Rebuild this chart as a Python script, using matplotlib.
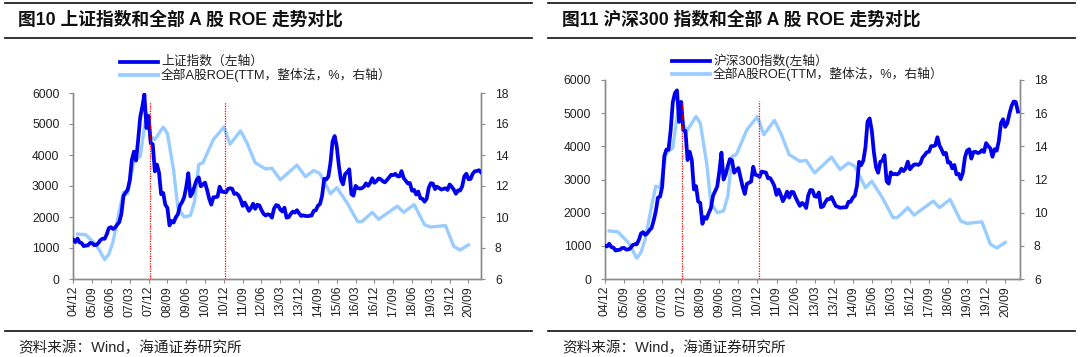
import numpy as np
import matplotlib
matplotlib.use("Agg")
import matplotlib.pyplot as plt
from matplotlib.lines import Line2D

plt.rcParams['font.family'] = ['Liberation Sans', 'Noto Sans CJK SC', 'DejaVu Sans']

# monthly closes starting 2004-12
sse_close = [1266,
             1191, 1306, 1181, 1159, 1060, 1080, 1083, 1162, 1155, 1092, 1099, 1161,
             1258, 1299, 1298, 1440, 1641, 1672, 1612, 1658, 1752, 1837, 2099, 2675,
             2786, 2881, 3183, 3841, 4109, 3820, 4471, 5218, 5552, 5954, 4871, 5261,
             4383, 4348, 3472, 3693, 3433, 2736, 2776, 2397, 2293, 1729, 1871, 1821,
             1991, 2082, 2373, 2477, 2633, 2959, 3412, 2667, 2779, 2996, 3195, 3277,
             2989, 3051, 3110, 2871, 2592, 2398, 2638, 2639, 2656, 2978, 2820, 2808,
             2791, 2905, 2928, 2911, 2743, 2762, 2701, 2568, 2359, 2468, 2333, 2199,
             2292, 2428, 2263, 2397, 2373, 2225, 2103, 2047, 2086, 2069, 1980, 2269,
             2385, 2366, 2237, 2178, 2301, 1979, 1994, 2098, 2175, 2141, 2220, 2116,
             2033, 2056, 2033, 2026, 2039, 2048, 2202, 2217, 2364, 2420, 2683, 3235,
             3210, 3310, 3748, 4442, 4612, 4277, 3664, 3206, 3053, 3383, 3446, 3539,
             2738, 2688, 3004, 2938, 2917, 2930, 2979, 3085, 3005, 3100, 3250, 3104,
             3159, 3242, 3223, 3155, 3117, 3192, 3273, 3361, 3349, 3393, 3317, 3307,
             3481, 3259, 3169, 3082, 3095, 2847, 2876, 2725, 2821, 2603, 2588, 2494,
             2585, 2941, 3091, 3078, 2899, 2979, 2933, 2886, 2905, 2929, 2872, 3050,
             2977, 2880, 2750, 2860, 2852, 2985, 3310, 3396, 3218, 3225, 3392, 3473,
             3483, 3509, 3441]

csi300_close = [1000,
                982, 1062, 963, 946, 857, 874, 880, 932, 938, 887, 892, 924,
                1022, 1046, 1048, 1179, 1373, 1413, 1330, 1381, 1473, 1535, 1766, 2042,
                2454, 2481, 2782, 3707, 3903, 3901, 4472, 5321, 5601, 5688, 4737, 5338,
                4477, 4465, 3585, 3838, 3580, 2701, 2800, 2337, 2291, 1663, 1866, 1817,
                1990, 2136, 2505, 2645, 2788, 3241, 3811, 2999, 3158, 3408, 3616, 3575,
                3204, 3281, 3346, 3067, 2781, 2563, 2868, 2903, 2936, 3385, 3142, 3128,
                3076, 3240, 3223, 3211, 3037, 3044, 2937, 2803, 2535, 2695, 2539, 2346,
                2464, 2634, 2455, 2626, 2620, 2462, 2333, 2205, 2293, 2254, 2140, 2523,
                2686, 2674, 2495, 2478, 2610, 2165, 2188, 2312, 2409, 2409, 2474, 2331,
                2203, 2178, 2146, 2158, 2158, 2165, 2328, 2327, 2450, 2509, 2808, 3533,
                3434, 3572, 3966, 4749, 4841, 4473, 3816, 3366, 3203, 3534, 3566, 3731,
                2946, 2877, 3218, 3156, 3169, 3154, 3203, 3327, 3253, 3336, 3538, 3310,
                3387, 3452, 3456, 3439, 3492, 3666, 3737, 3822, 3837, 4006, 4006, 4031,
                4275, 4023, 3899, 3756, 3802, 3510, 3517, 3335, 3438, 3154, 3173, 3011,
                3201, 3670, 3872, 3913, 3629, 3826, 3835, 3799, 3814, 3886, 3828, 4097,
                4004, 3940, 3686, 3912, 3868, 4164, 4695, 4817, 4587, 4695, 4981, 5212,
                5352, 5336, 5048]

roe_month = ['2005-02', '2005-06', '2005-11', '2006-03', '2006-05', '2006-07', '2006-10',
             '2006-12', '2007-02', '2007-05', '2007-08', '2007-11', '2008-01', '2008-03',
             '2008-07', '2008-09', '2008-12', '2009-02', '2009-05', '2009-08', '2009-10',
             '2009-12', '2010-02', '2010-07', '2010-12', '2011-03', '2011-08', '2011-11',
             '2012-03', '2012-08', '2012-11', '2013-03', '2013-11', '2014-03', '2014-07',
             '2014-10', '2015-03', '2015-06', '2015-11', '2016-04', '2016-06', '2016-11',
             '2017-02', '2017-11', '2018-02', '2018-07', '2018-12', '2019-03', '2019-10',
             '2020-02', '2020-05', '2020-09']
roe_value = [8.9, 8.85, 8.2, 7.25, 7.6, 8.4, 10.4,
             11.6, 11.5, 13.6, 13.9, 16.7, 15.2, 15.0,
             15.8, 15.4, 13.0, 10.6, 10.0, 10.1, 11.0,
             13.4, 13.5, 15.0, 15.8, 14.7, 15.56, 14.8,
             13.5, 13.1, 13.15, 12.4, 13.35, 12.6, 13.0,
             12.8, 11.5, 11.9, 10.9, 9.7, 9.7, 10.3,
             9.85, 10.7, 10.3, 10.8, 9.5, 9.35, 9.45,
             8.1, 7.87, 8.2]

tick_labels = ['04/12', '05/09', '06/06', '07/03', '07/12', '08/09', '09/06', '10/03',
               '10/12', '11/09', '12/06', '13/03', '13/12', '14/09', '15/06', '16/03',
               '16/12', '17/09', '18/06', '19/03', '19/12', '20/09']
marker_months = ['2007-12', '2010-12']


def month_pos(s):
    y, m = s.split('-')
    return (int(y) - 2004) * 12 + int(m) - 12


roe_x = [month_pos(s) for s in roe_month]
tick_x = [month_pos('20' + t.replace('/', '-')) for t in tick_labels]
marker_x = [month_pos(s) + 0.6 for s in marker_months]

W, H = 1080, 357
fig = plt.figure(figsize=(W / 100, H / 100), dpi=100)
fig.patch.set_facecolor('white')

dark = '#0000ee'
light = '#99ccff'
gray = '#8c8c8c'


def px(x, y):
    return x / W, 1 - y / H


def hline(x0, x1, y, lw=1.3):
    fig.add_artist(Line2D([x0 / W, x1 / W], [1 - y / H, 1 - y / H], color='#222222', lw=lw))


def panel(box, idx, xmax, marker_top, title, leg1, leg_x, leg_y, text_x):
    l, t, r, b = box
    ax = fig.add_axes([l / W, 1 - b / H, (r - l) / W, (b - t) / H])
    ax2 = ax.twinx()
    ax.plot(np.arange(len(idx)), idx, color=dark, lw=2.7, solid_joinstyle='round', zorder=3)
    ax2.plot(roe_x, roe_value, color=light, lw=2.4, solid_joinstyle='round', zorder=2)
    ax.set_zorder(ax2.get_zorder() + 1)
    ax.patch.set_visible(False)
    for mx in marker_x:
        ax.plot([mx, mx], [0, marker_top], color='red', lw=0.9, ls=(0, (1, 1)), zorder=4)
    ax.set_xlim(0, xmax)
    ax.set_ylim(0, 6000)
    ax2.set_ylim(6, 18)
    ax.set_yticks(range(0, 6001, 1000))
    ax2.set_yticks(range(6, 19, 2))
    ax.set_xticks(tick_x)
    ax.set_xticklabels(tick_labels, rotation=90)
    for a in (ax, ax2):
        for s in a.spines.values():
            s.set_color(gray)
            s.set_linewidth(1.0)
        a.spines['top'].set_visible(False)
        a.tick_params(length=3, width=0.8, color=gray, labelsize=8.7, labelcolor='#222222', pad=2)
    ax.tick_params(axis='y', pad=7)
    ax2.tick_params(axis='y', pad=7)
    # title and legend
    fig.text(*px(text_x, 20), title, fontsize=12.8, fontweight='bold', va='center', color='#111111')
    fig.add_artist(Line2D([leg_x / W, (leg_x + 38) / W], [1 - leg_y / H] * 2, color=dark, lw=2.7))
    fig.add_artist(Line2D([leg_x / W, (leg_x + 38) / W], [1 - (leg_y + 13) / H] * 2, color=light, lw=2.7))
    fig.text(*px(leg_x + 41, leg_y), leg1, fontsize=9.2, va='center', color='#222222')
    fig.text(*px(leg_x + 41, leg_y + 13), '全部A股ROE(TTM，整体法，%，右轴）', fontsize=9.2, va='center',
             color='#222222')
    fig.text(*px(text_x, 348), '资料来源：Wind，海通证券研究所', fontsize=10.5, va='center', color='#222222')
    return ax


panel((73.3, 93, 481, 279), sse_close, 195, 5700, '图10 上证指数和全部 A 股 ROE 走势对比',
      '上证指数（左轴）', 120, 62, 18)
panel((605, 80, 1020, 279), csi300_close, 196, 5370, '图11 沪深300 指数和全部 A 股 ROE 走势对比',
      '沪深300指数(左轴）', 672, 61, 562)

hline(5, 532, 3)
hline(5, 532, 38)
hline(5, 532, 331)
hline(548, 1075, 3)
hline(548, 1075, 38)
hline(548, 1075, 331)

fig.savefig('out.png', dpi=100)
